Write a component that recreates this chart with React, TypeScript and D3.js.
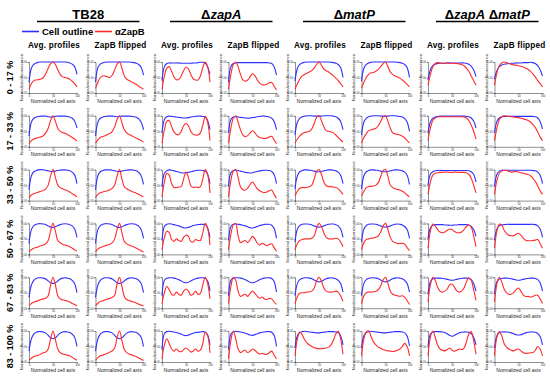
import React, { useEffect, useRef } from "react";
import * as d3 from "d3";

// column headers, row labels, panel titles
const strains = [["TB28"], ["Δ", "zapA"], ["Δ", "matP"], ["Δ", "zapA", " Δ", "matP"]];
const rowLabels = ["0 - 17 %", "17 - 33 %", "33 - 50 %", "50 - 67 %", "67 - 83 %", "83 - 100 %"];
const panelTitles = ["Avg. profiles", "ZapB flipped"];
const xTicks = [0, 50, 100];
const yTicks = [0, 0.5, 1];

// sampling grid along the normalized cell axis
const cellAxis = [0, 5, 10, 15, 20, 25, 30, 35, 40, 45, 50, 55, 60, 65, 70, 75, 80, 85, 90, 95, 100];

// panel order in each row: TB28 avg, TB28 flipped, zapA avg, zapA flipped, matP avg, matP flipped, zapA matP avg, zapA matP flipped
const outlineRow1 = [
  [0.35, 0.8, 0.92, 0.97, 0.99, 1, 1, 1, 1, 1, 1, 1, 1, 1, 1, 1, 0.99, 0.97, 0.93, 0.85, 0.6],
  [0.35, 0.82, 0.93, 0.97, 0.99, 1, 1, 1, 1, 1, 1, 1, 1, 1, 1, 0.99, 0.98, 0.96, 0.92, 0.83, 0.58],
  [0.4, 0.85, 0.95, 0.97, 0.97, 0.97, 0.97, 0.97, 0.96, 0.96, 0.96, 0.96, 0.96, 0.97, 0.97, 0.98, 0.99, 0.99, 0.97, 0.85, 0.6],
  [0.35, 0.85, 0.95, 0.97, 0.98, 0.98, 0.98, 0.98, 0.98, 0.98, 0.98, 0.98, 0.98, 0.98, 0.98, 0.98, 0.98, 0.97, 0.95, 0.85, 0.58],
  [0.38, 0.8, 0.92, 0.97, 0.99, 1, 1, 1, 1, 1, 1, 1, 1, 1, 1, 0.99, 0.98, 0.96, 0.92, 0.82, 0.5],
  [0.38, 0.8, 0.92, 0.97, 0.99, 1, 1, 1, 1, 1, 1, 1, 1, 1, 1, 0.99, 0.98, 0.96, 0.92, 0.82, 0.5],
  [0.42, 0.75, 0.88, 0.93, 0.95, 0.96, 0.96, 0.96, 0.97, 0.97, 0.97, 0.97, 0.97, 0.97, 0.97, 0.97, 0.96, 0.93, 0.87, 0.75, 0.53],
  [0.45, 0.72, 0.85, 0.9, 0.93, 0.94, 0.95, 0.96, 0.96, 0.97, 0.97, 0.97, 0.98, 0.98, 0.98, 0.99, 0.98, 0.95, 0.88, 0.75, 0.55],
];
const zapBRow1 = [
  [0.13, 0.3, 0.4, 0.42, 0.43, 0.45, 0.5, 0.62, 0.8, 0.95, 1, 0.92, 0.75, 0.6, 0.52, 0.5, 0.48, 0.44, 0.38, 0.3, 0.2],
  [0.15, 0.35, 0.5, 0.55, 0.55, 0.52, 0.5, 0.58, 0.75, 0.93, 1, 0.8, 0.55, 0.45, 0.4, 0.36, 0.32, 0.28, 0.22, 0.17, 0.12],
  [0.12, 0.55, 0.8, 0.85, 0.7, 0.52, 0.43, 0.44, 0.55, 0.72, 0.83, 0.78, 0.6, 0.46, 0.42, 0.42, 0.55, 0.82, 1, 0.85, 0.35],
  [0.12, 0.6, 0.92, 1, 0.85, 0.6, 0.42, 0.38, 0.42, 0.52, 0.62, 0.56, 0.42, 0.32, 0.27, 0.26, 0.28, 0.33, 0.34, 0.22, 0.1],
  [0.13, 0.3, 0.45, 0.55, 0.6, 0.64, 0.68, 0.72, 0.8, 0.92, 1, 0.9, 0.78, 0.72, 0.68, 0.62, 0.55, 0.48, 0.4, 0.3, 0.2],
  [0.15, 0.35, 0.5, 0.6, 0.65, 0.66, 0.7, 0.76, 0.85, 0.95, 1, 0.85, 0.68, 0.6, 0.55, 0.52, 0.48, 0.42, 0.35, 0.28, 0.2],
  [0.25, 0.6, 0.85, 0.95, 0.98, 0.97, 0.96, 0.96, 0.97, 0.96, 0.96, 0.96, 0.95, 0.94, 0.92, 0.88, 0.8, 0.7, 0.55, 0.4, 0.25],
  [0.25, 0.65, 0.88, 0.97, 1, 0.98, 0.95, 0.93, 0.9, 0.9, 0.88, 0.86, 0.84, 0.8, 0.76, 0.7, 0.62, 0.52, 0.4, 0.3, 0.2],
];

const outlineRow2 = [
  [0.35, 0.8, 0.92, 0.96, 0.98, 0.99, 0.99, 0.99, 0.97, 0.96, 0.97, 0.98, 0.99, 0.99, 0.99, 0.99, 0.98, 0.96, 0.92, 0.83, 0.6],
  [0.35, 0.8, 0.92, 0.96, 0.98, 0.99, 0.99, 0.99, 0.98, 0.97, 0.98, 0.99, 0.99, 0.99, 0.99, 0.98, 0.97, 0.95, 0.9, 0.8, 0.55],
  [0.45, 0.88, 0.97, 0.99, 0.98, 0.97, 0.96, 0.95, 0.94, 0.93, 0.93, 0.94, 0.96, 0.97, 0.98, 0.99, 0.99, 0.98, 0.96, 0.85, 0.55],
  [0.45, 0.88, 0.96, 0.97, 0.96, 0.95, 0.94, 0.93, 0.92, 0.93, 0.94, 0.95, 0.97, 0.98, 0.99, 0.99, 0.98, 0.96, 0.92, 0.82, 0.55],
  [0.38, 0.8, 0.92, 0.97, 0.99, 1, 1, 1, 0.99, 0.99, 0.99, 0.99, 1, 1, 1, 1, 0.99, 0.97, 0.92, 0.82, 0.55],
  [0.38, 0.8, 0.92, 0.97, 0.99, 1, 1, 1, 0.99, 0.99, 0.99, 0.99, 1, 1, 1, 0.99, 0.98, 0.96, 0.91, 0.8, 0.5],
  [0.45, 0.8, 0.92, 0.96, 0.98, 0.99, 0.99, 0.99, 0.99, 0.99, 0.99, 0.99, 0.99, 0.99, 0.99, 0.99, 0.98, 0.97, 0.93, 0.83, 0.6],
  [0.45, 0.82, 0.93, 0.97, 0.98, 0.98, 0.98, 0.98, 0.98, 0.98, 0.98, 0.98, 0.98, 0.98, 0.98, 0.98, 0.98, 0.97, 0.93, 0.82, 0.58],
];
const zapBRow2 = [
  [0.1, 0.2, 0.25, 0.28, 0.3, 0.32, 0.36, 0.45, 0.6, 0.85, 1, 0.82, 0.6, 0.5, 0.46, 0.44, 0.4, 0.35, 0.3, 0.25, 0.18],
  [0.12, 0.22, 0.3, 0.33, 0.36, 0.4, 0.43, 0.5, 0.65, 0.88, 1, 0.78, 0.55, 0.45, 0.4, 0.36, 0.32, 0.28, 0.24, 0.2, 0.15],
  [0.12, 0.55, 0.82, 0.85, 0.65, 0.48, 0.4, 0.4, 0.5, 0.68, 0.75, 0.68, 0.5, 0.4, 0.38, 0.38, 0.45, 0.7, 0.98, 0.8, 0.2],
  [0.12, 0.6, 0.92, 1, 0.8, 0.55, 0.38, 0.33, 0.36, 0.45, 0.52, 0.45, 0.35, 0.3, 0.28, 0.27, 0.28, 0.32, 0.34, 0.22, 0.1],
  [0.12, 0.25, 0.35, 0.42, 0.46, 0.48, 0.5, 0.58, 0.75, 0.95, 1, 0.85, 0.65, 0.52, 0.5, 0.48, 0.45, 0.38, 0.3, 0.22, 0.15],
  [0.12, 0.3, 0.42, 0.52, 0.55, 0.57, 0.6, 0.68, 0.82, 0.97, 1, 0.82, 0.6, 0.45, 0.42, 0.4, 0.38, 0.34, 0.28, 0.2, 0.13],
  [0.2, 0.6, 0.85, 0.93, 0.96, 0.97, 0.97, 0.97, 0.97, 0.97, 0.97, 0.97, 0.97, 0.97, 0.97, 0.96, 0.93, 0.85, 0.7, 0.5, 0.25],
  [0.2, 0.6, 0.88, 0.97, 1, 0.99, 0.98, 0.97, 0.96, 0.95, 0.94, 0.92, 0.9, 0.88, 0.85, 0.8, 0.72, 0.62, 0.48, 0.32, 0.2],
];

const outlineRow3 = [
  [0.35, 0.8, 0.93, 0.97, 0.99, 1, 0.99, 0.98, 0.96, 0.94, 0.94, 0.95, 0.97, 0.98, 0.99, 0.99, 0.98, 0.96, 0.92, 0.83, 0.55],
  [0.35, 0.8, 0.93, 0.97, 0.99, 0.99, 0.99, 0.98, 0.96, 0.94, 0.94, 0.95, 0.97, 0.98, 0.99, 0.99, 0.98, 0.96, 0.91, 0.8, 0.52],
  [0.45, 0.88, 0.96, 0.99, 0.98, 0.96, 0.94, 0.92, 0.9, 0.89, 0.9, 0.91, 0.93, 0.95, 0.97, 0.98, 0.98, 0.97, 0.95, 0.85, 0.55],
  [0.45, 0.9, 0.97, 0.98, 0.97, 0.95, 0.93, 0.91, 0.9, 0.89, 0.9, 0.92, 0.94, 0.96, 0.97, 0.98, 0.98, 0.97, 0.94, 0.84, 0.55],
  [0.38, 0.8, 0.93, 0.97, 0.99, 0.99, 0.98, 0.97, 0.95, 0.93, 0.93, 0.94, 0.96, 0.98, 0.99, 0.99, 0.98, 0.96, 0.92, 0.82, 0.55],
  [0.38, 0.8, 0.93, 0.97, 0.99, 0.99, 0.98, 0.97, 0.95, 0.93, 0.93, 0.94, 0.96, 0.98, 0.99, 0.99, 0.98, 0.96, 0.92, 0.82, 0.52],
  [0.5, 0.85, 0.93, 0.96, 0.97, 0.97, 0.97, 0.97, 0.97, 0.97, 0.97, 0.97, 0.97, 0.97, 0.97, 0.97, 0.97, 0.96, 0.93, 0.85, 0.6],
  [0.45, 0.85, 0.95, 0.98, 0.98, 0.98, 0.98, 0.98, 0.98, 0.98, 0.98, 0.98, 0.98, 0.98, 0.98, 0.98, 0.97, 0.96, 0.92, 0.82, 0.55],
];
const zapBRow3 = [
  [0.08, 0.18, 0.22, 0.25, 0.28, 0.3, 0.33, 0.38, 0.5, 0.8, 1, 0.75, 0.5, 0.42, 0.38, 0.35, 0.32, 0.28, 0.22, 0.18, 0.12],
  [0.1, 0.2, 0.25, 0.28, 0.3, 0.32, 0.35, 0.4, 0.5, 0.8, 1, 0.7, 0.45, 0.38, 0.34, 0.3, 0.27, 0.24, 0.2, 0.16, 0.12],
  [0.12, 0.6, 0.88, 0.82, 0.55, 0.42, 0.42, 0.44, 0.45, 0.7, 0.92, 0.75, 0.48, 0.42, 0.44, 0.42, 0.45, 0.7, 1, 0.85, 0.25],
  [0.12, 0.65, 0.95, 1, 0.75, 0.45, 0.35, 0.34, 0.4, 0.52, 0.6, 0.5, 0.38, 0.32, 0.28, 0.26, 0.28, 0.32, 0.34, 0.2, 0.08],
  [0.15, 0.3, 0.4, 0.42, 0.42, 0.43, 0.45, 0.5, 0.7, 0.95, 1, 0.85, 0.6, 0.48, 0.45, 0.45, 0.44, 0.42, 0.38, 0.3, 0.2],
  [0.15, 0.3, 0.42, 0.45, 0.46, 0.47, 0.5, 0.58, 0.78, 0.97, 1, 0.78, 0.5, 0.42, 0.38, 0.36, 0.34, 0.3, 0.25, 0.18, 0.12],
  [0.2, 0.6, 0.82, 0.88, 0.9, 0.91, 0.91, 0.92, 0.92, 0.91, 0.91, 0.92, 0.92, 0.91, 0.91, 0.91, 0.9, 0.85, 0.72, 0.5, 0.25],
  [0.2, 0.65, 0.88, 0.95, 0.98, 0.97, 0.94, 0.92, 0.93, 0.94, 0.92, 0.9, 0.88, 0.86, 0.84, 0.8, 0.72, 0.62, 0.48, 0.32, 0.2],
];

const outlineRow4 = [
  [0.35, 0.8, 0.93, 0.97, 0.99, 0.99, 0.98, 0.96, 0.92, 0.88, 0.87, 0.89, 0.93, 0.96, 0.98, 0.99, 0.98, 0.96, 0.92, 0.82, 0.55],
  [0.35, 0.8, 0.93, 0.97, 0.99, 0.99, 0.98, 0.96, 0.92, 0.88, 0.87, 0.89, 0.93, 0.96, 0.98, 0.99, 0.98, 0.96, 0.91, 0.8, 0.52],
  [0.45, 0.9, 0.97, 0.99, 0.98, 0.96, 0.94, 0.92, 0.89, 0.86, 0.85, 0.87, 0.9, 0.93, 0.95, 0.96, 0.97, 0.97, 0.96, 0.85, 0.55],
  [0.45, 0.9, 0.97, 0.98, 0.97, 0.96, 0.94, 0.92, 0.89, 0.86, 0.85, 0.87, 0.9, 0.93, 0.95, 0.97, 0.97, 0.97, 0.94, 0.84, 0.52],
  [0.4, 0.82, 0.93, 0.97, 0.98, 0.98, 0.97, 0.95, 0.92, 0.89, 0.88, 0.89, 0.92, 0.95, 0.97, 0.98, 0.98, 0.96, 0.92, 0.82, 0.55],
  [0.4, 0.82, 0.93, 0.97, 0.98, 0.98, 0.97, 0.95, 0.92, 0.89, 0.88, 0.89, 0.92, 0.95, 0.97, 0.98, 0.97, 0.95, 0.9, 0.8, 0.52],
  [0.5, 0.85, 0.94, 0.96, 0.96, 0.96, 0.96, 0.95, 0.95, 0.94, 0.94, 0.95, 0.95, 0.96, 0.96, 0.96, 0.96, 0.95, 0.9, 0.8, 0.58],
  [0.45, 0.82, 0.92, 0.95, 0.96, 0.97, 0.97, 0.97, 0.97, 0.97, 0.97, 0.97, 0.97, 0.97, 0.97, 0.97, 0.97, 0.96, 0.92, 0.82, 0.55],
];
const zapBRow4 = [
  [0.08, 0.15, 0.2, 0.22, 0.25, 0.28, 0.3, 0.35, 0.45, 0.75, 1, 0.75, 0.45, 0.38, 0.33, 0.3, 0.28, 0.25, 0.2, 0.15, 0.1],
  [0.08, 0.17, 0.22, 0.25, 0.28, 0.3, 0.33, 0.38, 0.5, 0.8, 1, 0.7, 0.42, 0.34, 0.3, 0.27, 0.24, 0.2, 0.16, 0.12, 0.08],
  [0.15, 0.55, 0.75, 0.7, 0.48, 0.42, 0.5, 0.45, 0.42, 0.55, 0.62, 0.58, 0.42, 0.4, 0.48, 0.45, 0.45, 0.7, 1, 0.85, 0.3],
  [0.15, 0.65, 0.95, 1, 0.6, 0.38, 0.42, 0.45, 0.38, 0.48, 0.58, 0.5, 0.36, 0.3, 0.36, 0.32, 0.28, 0.32, 0.34, 0.22, 0.1],
  [0.15, 0.35, 0.45, 0.48, 0.5, 0.5, 0.5, 0.52, 0.6, 0.85, 1, 0.9, 0.7, 0.55, 0.5, 0.5, 0.5, 0.52, 0.5, 0.4, 0.25],
  [0.15, 0.38, 0.48, 0.5, 0.52, 0.53, 0.55, 0.6, 0.72, 0.92, 1, 0.8, 0.55, 0.42, 0.38, 0.35, 0.35, 0.36, 0.33, 0.22, 0.12],
  [0.2, 0.75, 0.98, 0.92, 0.8, 0.72, 0.7, 0.72, 0.78, 0.82, 0.8, 0.74, 0.7, 0.7, 0.72, 0.8, 0.9, 0.95, 0.88, 0.6, 0.25],
  [0.2, 0.75, 0.97, 0.95, 0.78, 0.68, 0.62, 0.6, 0.6, 0.65, 0.68, 0.62, 0.52, 0.46, 0.44, 0.44, 0.45, 0.46, 0.48, 0.35, 0.2],
];

const outlineRow5 = [
  [0.35, 0.75, 0.9, 0.96, 0.98, 0.98, 0.97, 0.94, 0.88, 0.82, 0.8, 0.82, 0.88, 0.94, 0.97, 0.98, 0.97, 0.95, 0.9, 0.8, 0.5],
  [0.35, 0.75, 0.9, 0.96, 0.98, 0.98, 0.97, 0.94, 0.88, 0.82, 0.8, 0.82, 0.88, 0.94, 0.97, 0.98, 0.97, 0.95, 0.9, 0.8, 0.5],
  [0.4, 0.9, 0.97, 0.98, 0.98, 0.97, 0.95, 0.92, 0.88, 0.84, 0.82, 0.84, 0.88, 0.92, 0.95, 0.97, 0.98, 0.98, 0.97, 0.88, 0.55],
  [0.4, 0.9, 0.97, 0.98, 0.98, 0.97, 0.95, 0.92, 0.88, 0.84, 0.82, 0.84, 0.88, 0.92, 0.95, 0.97, 0.98, 0.98, 0.96, 0.86, 0.52],
  [0.4, 0.8, 0.92, 0.96, 0.98, 0.98, 0.97, 0.95, 0.91, 0.87, 0.85, 0.87, 0.91, 0.95, 0.97, 0.98, 0.97, 0.95, 0.9, 0.8, 0.52],
  [0.4, 0.8, 0.92, 0.96, 0.98, 0.98, 0.97, 0.95, 0.91, 0.87, 0.85, 0.87, 0.91, 0.95, 0.97, 0.98, 0.97, 0.95, 0.9, 0.8, 0.52],
  [0.45, 0.85, 0.95, 0.97, 0.97, 0.97, 0.96, 0.95, 0.93, 0.91, 0.9, 0.91, 0.93, 0.95, 0.96, 0.97, 0.97, 0.96, 0.92, 0.8, 0.55],
  [0.45, 0.85, 0.94, 0.96, 0.97, 0.97, 0.96, 0.95, 0.93, 0.91, 0.9, 0.91, 0.93, 0.95, 0.96, 0.97, 0.97, 0.96, 0.92, 0.82, 0.55],
];
const zapBRow5 = [
  [0.08, 0.15, 0.2, 0.22, 0.25, 0.28, 0.3, 0.32, 0.4, 0.75, 1, 0.75, 0.4, 0.3, 0.27, 0.25, 0.23, 0.2, 0.15, 0.12, 0.08],
  [0.08, 0.16, 0.22, 0.24, 0.27, 0.3, 0.32, 0.35, 0.42, 0.78, 1, 0.7, 0.38, 0.28, 0.25, 0.22, 0.2, 0.17, 0.13, 0.1, 0.07],
  [0.15, 0.5, 0.7, 0.6, 0.45, 0.42, 0.52, 0.45, 0.42, 0.55, 0.62, 0.55, 0.42, 0.45, 0.55, 0.45, 0.48, 0.75, 1, 0.8, 0.3],
  [0.15, 0.7, 1, 0.9, 0.55, 0.38, 0.42, 0.45, 0.38, 0.48, 0.55, 0.48, 0.38, 0.32, 0.36, 0.3, 0.28, 0.32, 0.3, 0.2, 0.12],
  [0.15, 0.38, 0.48, 0.5, 0.5, 0.52, 0.53, 0.55, 0.65, 0.88, 1, 0.88, 0.65, 0.55, 0.52, 0.52, 0.53, 0.55, 0.52, 0.4, 0.22],
  [0.15, 0.4, 0.5, 0.52, 0.52, 0.53, 0.55, 0.6, 0.72, 0.92, 1, 0.8, 0.55, 0.45, 0.42, 0.4, 0.38, 0.4, 0.36, 0.25, 0.12],
  [0.2, 0.75, 1, 0.9, 0.68, 0.55, 0.52, 0.55, 0.62, 0.75, 0.78, 0.68, 0.56, 0.52, 0.55, 0.65, 0.85, 0.98, 0.9, 0.6, 0.25],
  [0.2, 0.78, 1, 0.85, 0.62, 0.5, 0.45, 0.45, 0.5, 0.6, 0.65, 0.55, 0.42, 0.38, 0.38, 0.36, 0.38, 0.42, 0.42, 0.3, 0.15],
];

const outlineRow6 = [
  [0.35, 0.75, 0.9, 0.96, 0.98, 0.98, 0.97, 0.93, 0.86, 0.78, 0.75, 0.78, 0.86, 0.93, 0.97, 0.98, 0.97, 0.95, 0.9, 0.8, 0.5],
  [0.35, 0.75, 0.9, 0.96, 0.98, 0.98, 0.97, 0.93, 0.86, 0.78, 0.75, 0.78, 0.86, 0.93, 0.97, 0.98, 0.97, 0.95, 0.9, 0.8, 0.5],
  [0.4, 0.92, 0.98, 0.99, 0.98, 0.97, 0.95, 0.93, 0.9, 0.86, 0.85, 0.87, 0.9, 0.93, 0.95, 0.96, 0.97, 0.98, 0.97, 0.88, 0.55],
  [0.4, 0.9, 0.97, 0.99, 0.98, 0.97, 0.95, 0.93, 0.9, 0.87, 0.86, 0.88, 0.91, 0.94, 0.96, 0.97, 0.98, 0.98, 0.96, 0.86, 0.5],
  [0.45, 0.85, 0.95, 0.98, 0.99, 0.98, 0.97, 0.96, 0.95, 0.94, 0.94, 0.95, 0.96, 0.97, 0.98, 0.98, 0.98, 0.97, 0.95, 0.85, 0.55],
  [0.45, 0.85, 0.95, 0.98, 0.99, 0.98, 0.97, 0.96, 0.95, 0.94, 0.94, 0.95, 0.96, 0.97, 0.98, 0.98, 0.98, 0.97, 0.94, 0.84, 0.52],
  [0.5, 0.9, 0.97, 0.98, 0.98, 0.98, 0.97, 0.95, 0.91, 0.86, 0.83, 0.86, 0.9, 0.94, 0.96, 0.97, 0.97, 0.96, 0.92, 0.8, 0.55],
  [0.45, 0.85, 0.95, 0.97, 0.97, 0.97, 0.96, 0.94, 0.91, 0.88, 0.87, 0.88, 0.91, 0.94, 0.96, 0.97, 0.97, 0.96, 0.92, 0.82, 0.55],
];
const zapBRow6 = [
  [0.05, 0.12, 0.18, 0.2, 0.22, 0.26, 0.3, 0.32, 0.42, 0.75, 1, 0.72, 0.42, 0.3, 0.26, 0.24, 0.22, 0.2, 0.15, 0.1, 0.06],
  [0.05, 0.14, 0.2, 0.22, 0.25, 0.28, 0.32, 0.36, 0.45, 0.8, 1, 0.7, 0.4, 0.3, 0.26, 0.23, 0.2, 0.17, 0.13, 0.09, 0.05],
  [0.1, 0.55, 0.75, 0.6, 0.42, 0.35, 0.42, 0.35, 0.33, 0.4, 0.45, 0.4, 0.32, 0.35, 0.42, 0.35, 0.38, 0.6, 0.95, 0.85, 0.3],
  [0.1, 0.7, 1, 0.75, 0.42, 0.3, 0.35, 0.38, 0.3, 0.35, 0.42, 0.38, 0.3, 0.26, 0.28, 0.25, 0.25, 0.3, 0.35, 0.22, 0.1],
  [0.2, 0.75, 0.97, 0.88, 0.72, 0.62, 0.55, 0.5, 0.46, 0.44, 0.43, 0.43, 0.44, 0.45, 0.48, 0.55, 0.7, 0.9, 1, 0.75, 0.25],
  [0.2, 0.75, 0.97, 1, 0.82, 0.65, 0.55, 0.48, 0.44, 0.4, 0.38, 0.36, 0.35, 0.34, 0.35, 0.38, 0.42, 0.5, 0.6, 0.5, 0.2],
  [0.2, 0.8, 1, 0.8, 0.55, 0.42, 0.38, 0.36, 0.4, 0.45, 0.38, 0.35, 0.38, 0.42, 0.4, 0.45, 0.65, 0.9, 0.98, 0.7, 0.25],
  [0.2, 0.8, 0.98, 0.85, 0.6, 0.48, 0.42, 0.38, 0.36, 0.4, 0.42, 0.36, 0.3, 0.28, 0.28, 0.3, 0.3, 0.38, 0.5, 0.42, 0.2],
];

const outlineRows = [outlineRow1, outlineRow2, outlineRow3, outlineRow4, outlineRow5, outlineRow6];
const zapBRows = [zapBRow1, zapBRow2, zapBRow3, zapBRow4, zapBRow5, zapBRow6];

const BLUE = "#2f2fff";
const RED = "#ff2b2b";
const FONT = "'Liberation Sans', Arial, Helvetica, sans-serif";

const App = () => {
  const ref = useRef<SVGSVGElement>(null);

  useEffect(() => {
    document.body.style.margin = "0";
    const svg = d3.select(ref.current);
    svg.selectAll("*").remove();

    const W = 550, H = 378;
    const plotW = 48, plotH = 31;
    const colX = d3.scaleLinear().domain([0, 7]).range([29, 494.5]);
    const rowAxisY = d3.scaleLinear().domain([0, 5]).range([93, 362]);

    svg.append("rect").attr("width", W).attr("height", H).attr("fill", "#fff");

    // column headers
    strains.forEach((parts, s) => {
      const x0 = colX(s * 2) + 8;
      const x1 = colX(s * 2 + 1) + plotW - 4;
      const cx = (x0 + x1) / 2;
      const t = svg.append("text")
        .attr("x", cx).attr("y", 18.5)
        .attr("text-anchor", "middle")
        .attr("font-family", FONT).attr("font-size", 13).attr("font-weight", "bold");
      parts.forEach((p) => {
        t.append("tspan").text(p)
          .attr("font-style", p.trim() === "Δ" || p === "TB28" ? "normal" : "italic");
      });
      svg.append("line")
        .attr("x1", x0).attr("x2", x1).attr("y1", 21.5).attr("y2", 21.5)
        .attr("stroke", "#000").attr("stroke-width", 1.4);
    });

    // legend
    const leg = svg.append("g").attr("font-family", FONT).attr("font-weight", "bold").attr("font-size", 9.5);
    leg.append("line").attr("x1", 22).attr("x2", 39).attr("y1", 31.5).attr("y2", 31.5)
      .attr("stroke", BLUE).attr("stroke-width", 1.6);
    leg.append("text").attr("x", 42).attr("y", 35).text("Cell outline");
    leg.append("line").attr("x1", 95).attr("x2", 112).attr("y1", 31.5).attr("y2", 31.5)
      .attr("stroke", RED).attr("stroke-width", 1.6);
    leg.append("text").attr("x", 115).attr("y", 35).text("αZapB");

    // panel titles
    for (let c = 0; c < 8; c++) {
      svg.append("text")
        .attr("x", colX(c) + plotW / 2 + 1).attr("y", 47.5)
        .attr("text-anchor", "middle")
        .attr("font-family", FONT).attr("font-size", 8.2).attr("font-weight", "bold")
        .attr("letter-spacing", 0.2)
        .text(panelTitles[c % 2]);
    }

    const x = d3.scaleLinear().domain([0, 100]).range([0, plotW]);

    rowLabels.forEach((label, r) => {
      const axisY = rowAxisY(r);
      const top = axisY - plotH;

      svg.append("text")
        .attr("transform", `translate(13,${top + plotH / 2}) rotate(-90)`)
        .attr("text-anchor", "middle")
        .attr("font-family", FONT).attr("font-size", 9).attr("font-weight", "bold")
        .text(label);

      for (let c = 0; c < 8; c++) {
        const g = svg.append("g").attr("transform", `translate(${colX(c)},${top})`);
        const y = d3.scaleLinear().domain([0, 1]).range([plotH, 0]);

        const ax = g.append("g").attr("transform", `translate(0,${plotH})`)
          .call(d3.axisBottom(x).tickValues(xTicks).tickSize(1.2).tickPadding(0.8).tickFormat(d3.format("d")));
        const ay = g.append("g")
          .call(d3.axisLeft(y).tickValues(yTicks).tickSize(1.2).tickPadding(0.8).tickFormat(d3.format(".2f")));
        [ax, ay].forEach((a) => {
          a.select(".domain").attr("stroke", "#444").attr("stroke-width", 0.6);
          a.selectAll(".tick line").attr("stroke", "#444").attr("stroke-width", 0.5);
          a.selectAll("text").attr("font-size", 2.8).attr("font-family", FONT).attr("fill", "#333");
        });

        g.append("text")
          .attr("x", plotW / 2).attr("y", plotH + 9.5)
          .attr("text-anchor", "middle")
          .attr("font-family", FONT).attr("font-size", 5).attr("fill", "#222")
          .text("Normalized cell axis");
        g.append("text")
          .attr("transform", `translate(-6.5,${plotH / 2}) rotate(-90)`)
          .attr("text-anchor", "middle")
          .attr("font-family", FONT).attr("font-size", 4.3).attr("fill", "#222")
          .text("Normalized fluorescence");

        const line = d3.line<number>()
          .x((_, i) => x(cellAxis[i]))
          .y((d) => y(d))
          .curve(d3.curveCatmullRom.alpha(0.5));

        g.append("path").attr("d", line(outlineRows[r][c]))
          .attr("fill", "none").attr("stroke", BLUE).attr("stroke-width", 1.1);
        g.append("path").attr("d", line(zapBRows[r][c]))
          .attr("fill", "none").attr("stroke", RED).attr("stroke-width", 1.1);
      }
    });
  }, []);

  return <svg ref={ref} width={550} height={378} style={{ display: "block" }} />;
};

export default App;
